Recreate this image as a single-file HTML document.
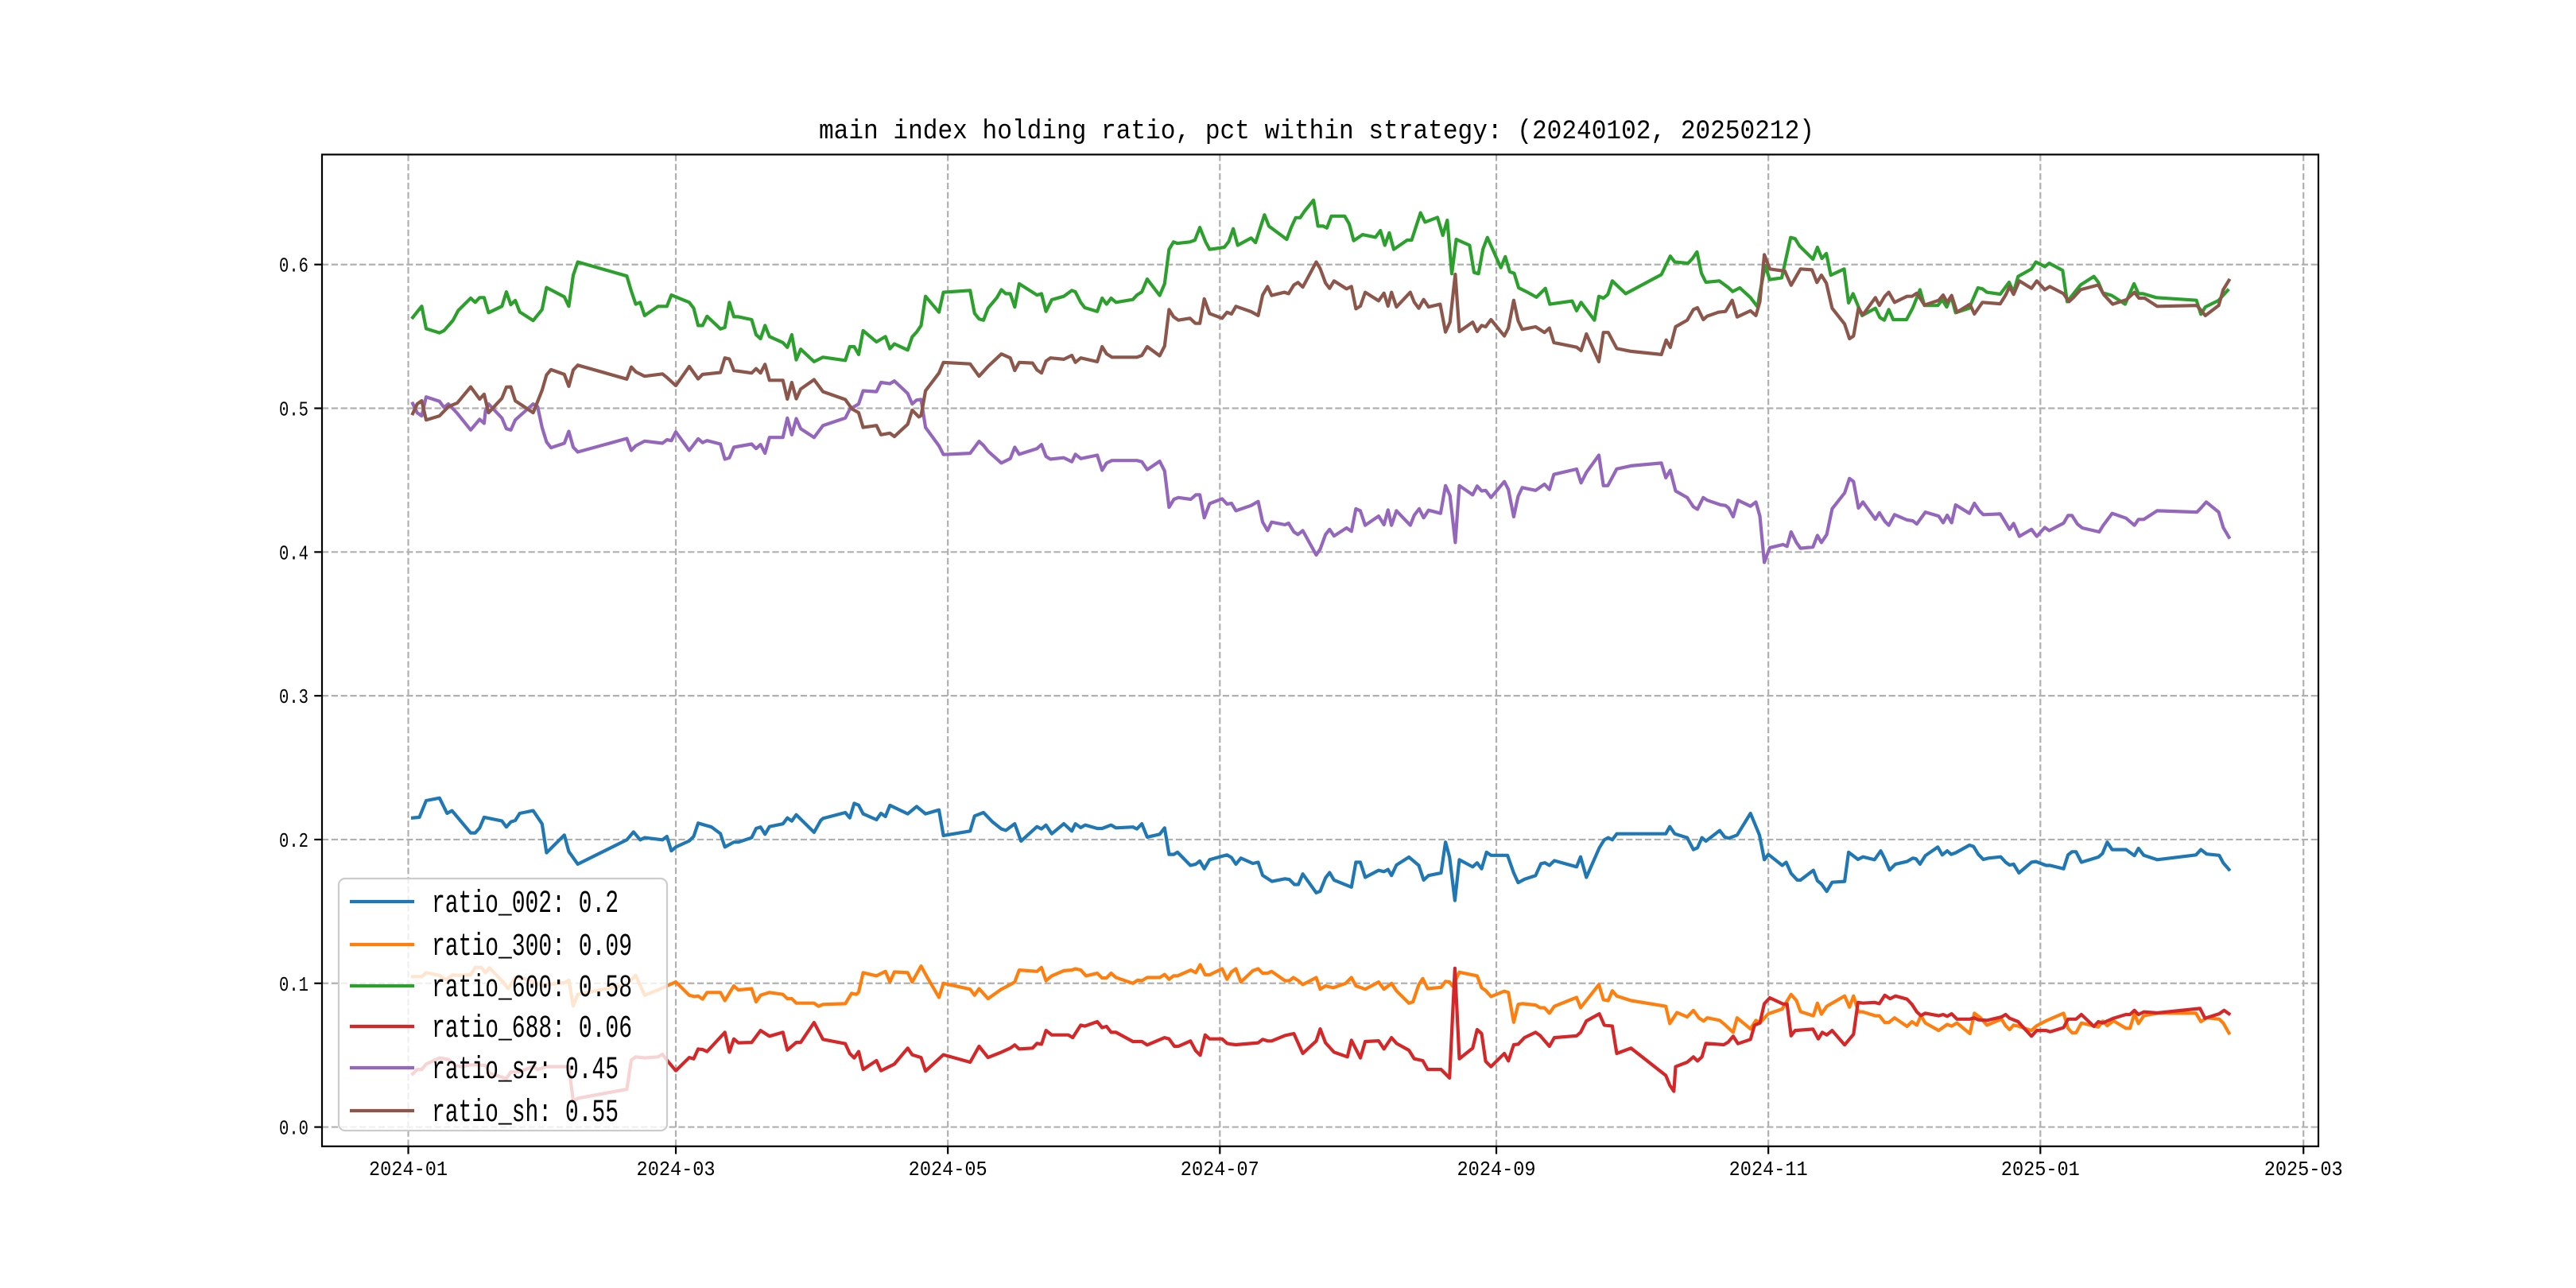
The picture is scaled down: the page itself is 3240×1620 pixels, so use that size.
<!DOCTYPE html>
<html><head><meta charset="utf-8"><style>
html,body{margin:0;padding:0;background:#fff;}
svg{display:block;}
text{font-family:"Liberation Mono","Noto Sans CJK SC",monospace;fill:#000;}
</style></head><body>
<svg id="chart" width="3240" height="1620" viewBox="0 0 3240 1620" xmlns="http://www.w3.org/2000/svg">
<rect x="0" y="0" width="3240" height="1620" fill="#fff"/>
<text x="1656" y="174" font-size="34" text-anchor="middle" textLength="1252" lengthAdjust="spacingAndGlyphs">main index holding ratio, pct within strategy: (20240102, 20250212)</text>
<g id="grid"></g>
<g id="series"></g>
<rect x="405" y="194.4" width="2511" height="1247.4" fill="none" stroke="#000" stroke-width="2.2"/>
<g id="ticks"></g>
<g id="legend"></g>
</svg>
<script>
const xTickLabels=["2024-01","2024-03","2024-05","2024-07","2024-09","2024-11","2025-01","2025-03"];
const xTickDays=[0,60,121,182,244,305,366,425];
const yTickValues=[0.0,0.1,0.2,0.3,0.4,0.5,0.6];
const yTickLabels=["0.0","0.1","0.2","0.3","0.4","0.5","0.6"];
const seriesNames=["ratio_002","ratio_300","ratio_600","ratio_688","ratio_sz","ratio_sh"];
const legendValues=["0.2","0.09","0.58","0.06","0.45","0.55"];
const seriesColors=["#1f77b4","#ff7f0e","#2ca02c","#d62728","#9467bd","#8c564b"];

const days002=[1,2.5,4,7,8.7,9.8,14,15,16,17,21,22,23,24,25,28,30,31,35,36,38,49,50.5,52,53,57,58,59,60,63,64,65,68,70,71,73,74,77,78,79,80,81,84,85,86,87,91,92.5,93,98,99,100,101,102,105,106,107,108,112,114,116,119,120,126,127,129,131,133,134,136,137.4,141,142,143,144.3,147,148.8,149.6,150.8,151.8,154.5,155.6,157.6,158.7,162.5,163.4,164.5,165.7,168.5,169.6,170.6,171.7,172.5,175.4,176.6,177.5,178.5,179.7,182.5,183.6,184.6,185.6,186.7,189.4,190.6,191.6,193.7,196.6,197.6,198.7,199.6,200.6,203.6,204.5,205.7,206.6,207.6,211.5,212.5,213.5,214.6,217.6,218.8,219.7,220.5,221.6,224.4,226.6,227.7,228.8,231.6,232.6,233.5,234.7,235.7,238.7,239.7,240.7,241.8,242.8,246.5,247.9,248.9,250.3,252.8,254,254.9,255.9,257,262,262.9,264.2,267.1,268.2,269.1,270,271,282,282.9,284,286.8,288.2,289.1,290.1,291,294.1,295.2,296.1,298,301,303,304.1,305,308.1,309,310.1,311.5,312.2,315.1,316,316.9,318.1,319.3,322.1,323,325.1,326.2,328.8,330.2,331.1,332.2,333.5,336.1,337.4,338.1,339,340.2,343,344,345.1,346,347,350.1,351,352.1,353.2,354.4,357.1,358.2,359.1,360,361.2,364,365,367.3,368.2,371.2,372.2,373.1,374,375.2,379,379.9,381,382.1,385.2,387.1,388,389.2,392.2,400.9,402,403.3,406.1,407,408.3];
const vals002=[.2151,.2155,.2271,.2289,.2182,.2201,.2046,.2046,.2081,.2155,.2129,.2087,.2123,.2133,.2182,.2201,.2109,.1908,.2031,.1917,.1829,.1998,.2053,.1998,.2013,.1998,.2022,.1921,.1948,.1991,.2022,.2114,.2087,.2041,.1948,.1982,.1982,.2013,.2077,.2087,.2037,.209,.2109,.2151,.2129,.2173,.205,.2133,.2147,.2188,.2151,.2252,.2239,.2179,.2138,.2182,.216,.2238,.2179,.223,.2179,.2206,.2028,.2059,.2164,.2188,.2123,.2074,.2064,.211,.1989,.209,.2074,.2101,.204,.211,.2059,.211,.2083,.2101,.2077,.2077,.2101,.2081,.2087,.2074,.211,.2017,.2037,.2081,.1897,.1897,.1912,.182,.1829,.1851,.1797,.186,.1884,.1893,.1875,.1829,.1871,.1834,.1842,.1751,.1709,.1727,.1722,.1687,.1687,.1761,.163,.1641,.1733,.177,.1718,.1669,.1842,.1842,.1737,.1786,.1777,.1792,.175,.1823,.1878,.182,.1718,.175,.1768,.1982,.1878,.1576,.186,.181,.1838,.1797,.1912,.189,.189,.1768,.17,.1724,.175,.1832,.1838,.182,.1853,.181,.188,.1737,.1943,.1998,.2013,.1998,.204,.204,.209,.204,.2013,.193,.1943,.2013,.1989,.2063,.2018,.2009,.2031,.2182,.2031,.186,.1897,.182,.1842,.1764,.1718,.1718,.1786,.1713,.1691,.1639,.1703,.1709,.1912,.1862,.188,.186,.1921,.1866,.1788,.1829,.1847,.1871,.1866,.1829,.1888,.1948,.1893,.1921,.1897,.1908,.1961,.1952,.1897,.1862,.1871,.188,.1842,.1823,.1829,.1768,.1842,.1847,.182,.182,.1797,.1893,.1915,.1915,.1842,.1878,.1902,.1982,.193,.193,.1888,.1939,.189,.186,.1893,.193,.1899,.189,.1838,.1792];

const days300=[1,3,4,7,8.4,10,11,14,15,16.4,17.3,18.2,21,22.4,24,26,28,30,31,35,36,37,38,49,50,51,53,56,58,60,63,64.2,65,66,67,70,71,73,74,77,78,79,81,84,85,86,87,91,92,93,98,99.4,100.5,101,102,105,107,108,109,112,113,115,116.3,119,120,126,127,128,130,133,135,136,137,141,142,143,144.3,147,148.8,149.6,150.8,152,154.5,155.6,156.6,157.6,158.7,162.5,163.6,164.5,165.7,168.5,169.6,170.6,171.6,172.5,175.5,176.6,177.6,178.7,179.7,182.5,183.6,184.6,185.6,186.7,189.4,190.6,191.6,192.7,193.6,196.6,197.6,198.5,199.6,200.6,203.6,204.5,205.7,207.4,210.2,211.5,212.5,214.6,217.6,218.8,220.5,221.6,224.4,225.3,226.6,227.5,228.6,231.6,232.6,233.5,234.2,235.7,239.7,240.7,241.6,242.8,245.8,246.7,247.9,248.9,249.8,252.8,253.8,254.8,255.9,257,262,262.9,267,268,269.1,270,271,274.2,282,282.9,284.5,286.8,288.2,289.4,290.5,291.3,294.1,295.2,297.1,298,301,302.2,303.1,305,308.1,310.1,311.3,312.2,315.1,316,316.9,318.1,322.1,323.2,324.1,325.2,326.2,329,329.9,331.1,332,333.3,336.1,337.2,338.3,339.2,340.2,343.2,345.1,346.1,347.3,350.2,351.2,352.6,354,357.3,358.2,359.1,360,361,364,365.2,367.5,371.2,372.2,373.1,374,375.2,379,380,381,382.4,385.2,386.1,387.1,388,389.2,392.2,400.9,402,403.3,406.1,407,408.3];
const vals300=[.1046,.1046,.1074,.1055,.1024,.1059,.1055,.1059,.111,.111,.1074,.1107,.1018,.0963,.104,.1033,.1009,.0982,.0991,.1004,.1022,.0843,.0923,.0991,.1024,.1055,.0917,.0954,.0982,.1009,.0917,.0908,.0912,.089,.0936,.0936,.088,.0982,.0954,.0963,.0871,.0917,.0936,.0923,.0893,.0893,.0862,.0862,.084,.0853,.0858,.093,.0923,.0939,.1074,.1052,.1083,.1009,.1079,.1074,.1009,.112,.1046,.0902,.1,.0959,.0917,.0963,.0893,.0959,.0991,.1009,.1092,.1083,.111,.1018,.1052,.1088,.1092,.1101,.1092,.1052,.107,.1037,.1037,.107,.104,.1,.1022,.1018,.104,.104,.1061,.1028,.1052,.1052,.1092,.1074,.1129,.1059,.1059,.1101,.1028,.1079,.1101,.1009,.1088,.1101,.107,.107,.1083,.1018,.1018,.104,.1018,.0991,.104,.0959,.0982,.0969,.1,.104,.0982,.0959,.1009,.0959,.1,.0948,.0862,.0871,.0991,.1033,.0963,.0972,.1013,.1009,.098,.1077,.1052,.0969,.095,.0908,.0945,.0936,.0729,.0853,.0858,.0849,.083,.083,.0792,.084,.0902,.083,.0991,.0886,.088,.0948,.0912,.088,.084,.072,.0797,.0766,.0812,.076,.0737,.076,.0742,.0714,.0659,.076,.0683,.0742,.0724,.0788,.0821,.0923,.088,.0803,.0774,.0862,.0785,.084,.0912,.0834,.0912,.0801,.0801,.0774,.0774,.0727,.0727,.076,.07,.0733,.0709,.0774,.0724,.0672,.0714,.0702,.0724,.065,.0792,.076,.0709,.0751,.0705,.0678,.0709,.0702,.0672,.0705,.0742,.0792,.0687,.0656,.0656,.0724,.0696,.0737,.0705,.0739,.0687,.0687,.0788,.072,.0774,.0792,.0792,.0733,.076,.0751,.0724,.0654];

const days600=[1,3,4,7,8,10,11.2,14,15,16,17,18,21,22,23,24,25,28,30,31,35,36,37,38,49,50,51,52,53,56,58,59,63,64,65,66,67,70,71,72,73,74,77,78,79,80,81,84,85,86,87,88,91,93,98,99,100,101,102,105,107,108,109,112,113,114,115,116,119,120,126,127,128,129,130,132,133,134,135,136,137,141,142,143,144.3,147,148.8,149.6,150.8,151.7,154.5,155.6,156.6,157.6,158.7,162.5,163.4,164.5,165.7,168.5,169.6,170.6,171.6,172.5,175.3,176.4,177.5,178.8,179.7,183,184,185,186,189,190,192,193,197,198,199,200,201,203,204,205.2,206,207,210,211,212,214,216.9,218,219,220,221,224,225,227,228,230.8,232,233,234,235,238,239,240,241,242,245,246,247,248,249,251,253,255,256,261,262,263,266,267,268,269,270,273,281,283,284,287,288,289,290,291,294,296,297,298.6,301,302.6,303,304.3,305.3,308,310,311,312,315,316,317,318,319,322,323,324,326,329,330,331,332,333,336,337.4,339,340,343,344,345,346,347,350,352,353,354,357,359,360,361,364,365,367,368,371,372,375,378,379,380,382,385,387,388,389,392,401,402,403,406,408];
const vals600=[.5632,.571,.5554,.5525,.554,.561,.568,.5766,.5737,.577,.577,.5665,.571,.581,.572,.575,.567,.561,.5687,.584,.5775,.571,.5926,.6018,.592,.5816,.5724,.5737,.5645,.5709,.5709,.5788,.5737,.5696,.5576,.5576,.564,.5552,.5562,.5737,.5637,.5637,.5617,.5512,.5484,.5576,.5499,.5457,.5424,.5512,.5337,.5411,.5324,.5355,.5333,.5429,.5429,.5374,.554,.5462,.5499,.5414,.5448,.5405,.5497,.553,.5576,.5779,.5668,.5807,.582,.566,.5622,.5613,.5696,.577,.5825,.5797,.5797,.5705,.5866,.5788,.5797,.5674,.5755,.5779,.582,.581,.5737,.57,.5674,.5766,.5724,.5766,.5737,.5757,.5788,.581,.5899,.5785,.5866,.6105,.6157,.6147,.6157,.617,.6258,.6157,.6105,.612,.616,.6249,.6134,.6184,.6153,.6346,.6267,.6175,.6258,.6326,.6326,.6372,.6448,.6267,.6267,.6254,.6337,.6337,.6282,.6166,.6208,.619,.6236,.6134,.6221,.6105,.617,.617,.636,.6295,.6328,.6203,.6308,.5936,.6175,.6134,.5945,.5936,.6107,.6188,.5978,.6055,.595,.5939,.5838,.5807,.5773,.5834,.5724,.5746,.5678,.5737,.5613,.5779,.5766,.5792,.5886,.5797,.593,.6059,.6018,.6009,.6042,.6088,.5939,.5877,.5886,.584,.5812,.5838,.577,.5705,.5788,.5994,.5895,.5908,.6188,.618,.6129,.6037,.612,.6042,.6077,.5926,.5969,.5733,.5797,.5645,.5696,.5632,.5613,.5687,.5617,.5617,.57,.5825,.5715,.5715,.5755,.5705,.5779,.5665,.5696,.5838,.5831,.5807,.5794,.5877,.5807,.5917,.5969,.6018,.5985,.6009,.5959,.5742,.5858,.5917,.5877,.5803,.5785,.5724,.5867,.5797,.5797,.577,.5751,.5654,.5705,.5751,.5821];

const days688=[1,2,3,4,7,9,10.6,12,14,15.4,17.3,18.2,22,23,24.8,28,29,31,35,36,37,38,49,50,51,53,56,57,58,60,63,64,65,66,67,71,72,73,74,77,79,81,84,85,87,88,91,93,98,99,100,101,102,105,106,109,112,113,115,116,120,126,128,130,133,135,136,137,140,141,142,143,144.3,148,149,150.8,151.7,154.5,155.6,156.6,157.6,158.7,162.5,164.5,165.7,169.6,170.6,171.8,172.7,175.4,176.6,177.6,178.7,179.7,182.5,183.6,184.6,185.6,190.6,191.6,192.7,193.6,196.6,198.6,200.6,203.6,204.5,205.7,207.6,210.6,211.5,213.5,214.6,217.6,218.8,220.5,221.6,224.4,225.6,227.5,228.6,231.6,233.5,234.7,235.7,238.7,239.7,240.7,241.6,242.8,245.8,246.7,247.9,248.9,250.3,252.8,253.8,255.9,257,262,262.9,264.2,267.1,268.2,270,271,274.2,282,282.9,283.8,284.2,286.8,288.2,289.1,290.1,291,295,296,297.1,298.2,301,301.9,303.1,304.1,305.3,308.3,309.2,310.1,311,315,316.2,317.1,318.1,319.3,322.1,324.1,325.1,326.2,328.8,329.9,331.1,332.3,333.5,336.1,337.2,338.3,339.2,340.2,343.2,344.2,345.1,346.1,347.3,350.2,351.2,352.1,354,357.3,358.2,359.1,361,364,365.2,367.3,368.2,371.2,372.2,374,375.2,378,379,380,382.4,385.2,386.1,387.1,388,389.2,392.2,401.8,402.9,406.1,407.2,408.3];
const vals688=[.037,.0401,.0401,.0438,.0481,.047,.0429,.042,.0433,.0433,.0429,.0374,.0337,.0383,.0383,.042,.0401,.042,.042,.042,.0181,.02,.0263,.0466,.0488,.0481,.0488,.0506,.0466,.0392,.0484,.0475,.0543,.0539,.0525,.0659,.0521,.0613,.0586,.0589,.0672,.0632,.0659,.0536,.0589,.0589,.0727,.061,.058,.0512,.0481,.0525,.0401,.0462,.0392,.0438,.0549,.0503,.0484,.0389,.0503,.0451,.0562,.0484,.0521,.0549,.0571,.0543,.0549,.0582,.0576,.0672,.0641,.0641,.0622,.0709,.0702,.0733,.0692,.07,.0659,.0659,.0595,.0595,.0571,.0622,.0613,.0562,.0562,.0599,.053,.0499,.0641,.0613,.0613,.0582,.0576,.0573,.0586,.061,.0599,.0599,.0637,.065,.0512,.0599,.0683,.0586,.0521,.0488,.0604,.0481,.0595,.06,.0543,.0622,.0582,.0534,.0475,.0462,.0401,.0401,.0341,.1105,.0475,.0549,.0678,.065,.0457,.042,.0512,.046,.0573,.0576,.0622,.0659,.0637,.0562,.0622,.0635,.0659,.0738,.0788,.0709,.0702,.0512,.0549,.0359,.0291,.0249,.042,.0451,.0488,.046,.0488,.0582,.0573,.0591,.0632,.058,.061,.0709,.0724,.0858,.0899,.0856,.0856,.0635,.0672,.0681,.0613,.0659,.0641,.0672,.0571,.0646,.0867,.0862,.0867,.0858,.0917,.0893,.0912,.089,.0853,.0801,.0775,.0792,.0774,.0783,.077,.0788,.0751,.0751,.076,.0746,.0742,.0766,.0783,.0757,.0733,.0632,.0672,.0672,.0663,.0692,.0751,.0751,.0783,.07,.0733,.0724,.0757,.0783,.0783,.0812,.0783,.0801,.0794,.0825,.0757,.0788,.0812,.0788];

const daysSz=[1,2,3,4,7,8,9,11,14,16,17,17.3,18,21,22,23,24,28,29,30,31,32,35,36,37,38,49,50,51,53,57,58,59,60,63,65,66,67,70,71,72,73,77,78,79,80,81,84,85,86,87,88,91,93,98,99,101,102,105,106,108,109,112,113,114,115,116,119,120,126,128,129,130,133,135,136,137,141,142,143,144,147,148.8,149.6,150.8,154.5,155.6,156.6,157.8,163.4,164.5,165.7,168.5,169.6,170.6,171.7,172.7,175.5,176.6,177.5,178.5,179.7,182.5,183.6,184.6,185.6,189,190.6,191.6,192.7,193.6,196.6,197.4,198.6,199.5,200.6,203.6,204.5,205.7,206.6,207.6,210.4,211.5,212.5,213.5,214.6,217.6,218.8,219.7,220.5,221.6,224.7,225.6,226.7,227.7,228.8,231.5,232.6,233.6,234.8,235.7,238.7,239.7,240.7,241.6,242.8,245.8,246.7,247.9,248.9,249.8,252.8,254.8,255.9,256.9,262,263,264.2,267,268,269,271,274.2,281,282,283,284.2,286.8,288.2,289.1,290.4,291.3,294.3,295.4,296.1,297.1,298.2,301,302.2,303.1,304.1,305.3,308.3,309.2,310.1,311.3,312.2,315,316,316.9,318.1,319.3,322.1,323.2,324.1,325.2,326.2,329,329.9,331.1,332,333.3,336.1,337.4,338.3,340.2,343.2,344.2,345.1,346.1,347,350.1,351.2,352.3,353.2,357,358.2,359.1,360,361.3,364,365.2,367,368,371.2,372.2,373.1,374.3,375.4,379.2,380.1,382.1,385.2,387.1,388,389.2,392.2,401.1,402,403.2,406,407,408.3];
const valsSz=[.5033,.4969,.4947,.5079,.5048,.5006,.503,.4965,.4849,.4923,.4895,.4982,.503,.4932,.4858,.4849,.4919,.503,.5011,.4867,.4766,.4726,.4757,.484,.4729,.4696,.479,.4707,.4739,.4772,.4757,.4781,.4775,.4836,.4707,.4788,.4761,.4775,.4751,.4646,.4656,.4729,.4751,.472,.4748,.4687,.4797,.4797,.4932,.4816,.4928,.4858,.4797,.488,.4932,.4993,.503,.5122,.5116,.518,.5171,.519,.5103,.503,.5057,.5061,.4867,.4739,.4678,.4687,.477,.4742,.4702,.4619,.465,.4729,.468,.472,.4748,.4665,.4646,.4656,.4628,.468,.465,.4674,.4569,.4619,.4637,.4637,.4628,.4573,.4632,.4564,.4311,.4367,.4379,.4367,.4398,.4398,.4238,.4337,.437,.4333,.4339,.4287,.4324,.4352,.4208,.4149,.4208,.419,.4201,.414,.4122,.4149,.398,.402,.4122,.4158,.4112,.4168,.4144,.4301,.4287,.4186,.425,.419,.4293,.4186,.4287,.4186,.4256,.4301,.4238,.4291,.4269,.4462,.4394,.4066,.4462,.4398,.4459,.4425,.4429,.4379,.449,.4435,.4245,.4389,.4448,.4429,.4472,.4435,.454,.4577,.4481,.4554,.4674,.4462,.4462,.4578,.46,.4619,.4517,.4569,.4425,.4379,.4315,.4297,.4379,.436,.4328,.4324,.4306,.4245,.436,.4319,.4348,.425,.3928,.403,.4052,.4039,.414,.4066,.4026,.4035,.4116,.4066,.4122,.4301,.4411,.4512,.449,.4306,.4348,.4228,.4274,.4214,.4186,.426,.4223,.4217,.4195,.4278,.425,.4204,.4256,.4204,.4328,.4269,.4339,.4287,.426,.4265,.4204,.4158,.4199,.4109,.4158,.4109,.4171,.4149,.4201,.4254,.4254,.4195,.4168,.414,.4186,.4269,.4236,.4186,.4227,.4227,.4287,.4278,.4306,.4348,.4278,.4171,.4103];

const daysSh=[1,2,3,4,7,9,11,14,16,17,18,21,22,23,24,28,30,31,32,35,36,37,38,49,50,51,53,57,58,60,63,65,66,70,71,72,73,77,78,79,80,81,84,85,86,87,88,91,93,98,99.5,101,102,105,106,108,109,112,113,114.5,115,116,119,120,126,128,130,133,135,136,137,140,141,142,143,144,147,148.8,149.6,150.8,154.5,155.6,156.6,157.8,163.4,164.5,165.7,168.5,169.6,170.6,171.6,172.7,175.3,176.5,177.5,178.5,179.7,182.5,183.6,184.6,185.6,189,190.6,191.6,192.7,193.6,196.5,197.4,198.6,199.5,200.6,203.6,204.5,205.7,206.6,207.6,210.4,211.5,212.5,213.5,214.6,217.6,218.8,219.7,220.5,221.6,224.7,225.6,226.6,227.7,228.8,231.4,232.6,233.6,234.8,235.7,238.7,239.7,240.7,241.6,242.8,245.8,246.7,247.9,248.9,249.8,252.8,254.8,255.9,256.9,262,263,264.2,267,268,269.1,271,274.2,281,282.1,283,284.2,286.8,288.2,289.1,290.4,291.3,293.8,295.4,296.9,298,301,302.2,303.1,304.1,305.3,308.7,310.1,312.2,314.8,315.9,316.9,318,319.3,322.1,323.2,324.1,325.2,326.2,329,329.9,331.1,332,333.3,336.1,337.2,338.3,340,343.2,344.2,345.1,346.1,347.3,350.2,351.2,353,357,358.2,359.1,360,361.3,364,365.2,367,368.1,371.2,372.4,373.4,375,379,380.3,382.2,385.3,387.1,388.1,389.4,392.2,401.1,403,406,407,408.3];
const valsSh=[.4963,.503,.5052,.4919,.4947,.5011,.5037,.5149,.5064,.5098,.4969,.507,.5147,.5149,.5052,.4969,.5125,.5232,.5269,.5236,.5153,.5267,.53,.5203,.5287,.5254,.5223,.5239,.5214,.5158,.5291,.5204,.5236,.5249,.535,.5343,.5263,.5245,.5276,.5245,.5306,.5195,.5195,.5064,.518,.5066,.5134,.5199,.5116,.5061,.4996,.4969,.4867,.488,.4816,.4827,.4803,.4889,.4987,.494,.495,.5122,.5245,.5319,.5309,.5223,.5291,.5378,.535,.5263,.5319,.5315,.5267,.5245,.5328,.535,.5341,.5368,.5319,.535,.5324,.5429,.5379,.5355,.5355,.5368,.5429,.5365,.5433,.5687,.5637,.5613,.5626,.5591,.5591,.5761,.5659,.5626,.5668,.5656,.5709,.5672,.5645,.5788,.5847,.5785,.5807,.5797,.5858,.5875,.5843,.6018,.5972,.5871,.5834,.5886,.5831,.5847,.5692,.5711,.5807,.5748,.5801,.5711,.5807,.5705,.5807,.5738,.5696,.5757,.5705,.5724,.553,.5599,.5932,.5534,.5599,.5534,.5576,.5567,.5617,.5503,.5558,.5751,.5608,.5549,.5567,.5527,.5558,.5457,.5425,.5401,.5517,.5324,.5527,.5527,.5416,.5396,.5374,.5475,.5424,.5567,.5613,.5687,.57,.5617,.5641,.5668,.5674,.5751,.5635,.5678,.5645,.5742,.6068,.5969,.5954,.5856,.5969,.5963,.5875,.5926,.5871,.5696,.5586,.5484,.5503,.5696,.565,.577,.5715,.5779,.5807,.5737,.5779,.5779,.5801,.5718,.5751,.5788,.5737,.5785,.5668,.5724,.5656,.5737,.5727,.5788,.5847,.5792,.5886,.5834,.5886,.5825,.5847,.5797,.5742,.577,.5825,.5858,.5788,.5724,.5755,.5807,.5766,.5766,.5709,.5715,.5645,.5715,.5825,.589];

const allDays=[days002,days300,days600,days688,daysSz,daysSh];
const allVals=[vals002,vals300,vals600,vals688,valsSz,valsSh];

const AX={l:405,r:2916,t:194.4,b:1441.8};
const xMin=-19.35, xMax=428.35, yMin=-0.0134, yMax=0.6765;
function xs(d){return AX.l+(d-xMin)/(xMax-xMin)*(AX.r-AX.l);}
function ys(v){return AX.b-(v-yMin)/(yMax-yMin)*(AX.b-AX.t);}
const NS="http://www.w3.org/2000/svg";
function mk(tag,attrs){const e=document.createElementNS(NS,tag);for(const k in attrs)e.setAttribute(k,attrs[k]);return e;}

const grid=document.getElementById('grid');
const ticks=document.getElementById('ticks');
xTickDays.forEach((d,i)=>{
  const x=xs(d);
  const g=mk('line',{x1:x,y1:AX.t,x2:x,y2:AX.b,stroke:'#b0b0b0','stroke-width':2.2,'stroke-dasharray':'8.2 3.6'});
  
  
  grid.appendChild(g);
  const t=mk('line',{x1:x,y1:AX.b,x2:x,y2:AX.b+9.7,stroke:'#000','stroke-width':2.2});
  
  
  ticks.appendChild(t);
  const lb=mk('text',{x:x,y:AX.b+36,'font-size':26,'text-anchor':'middle',textLength:99,lengthAdjust:'spacingAndGlyphs'});
  lb.textContent=xTickLabels[i];
  
  
  ticks.appendChild(lb);
});
yTickValues.forEach((v,i)=>{
  const y=ys(v);
  const g=mk('line',{x1:AX.l,y1:y,x2:AX.r,y2:y,stroke:'#b0b0b0','stroke-width':2.2,'stroke-dasharray':'8.2 3.6'});
  
  
  grid.appendChild(g);
  const t=mk('line',{x1:AX.l-9.7,y1:y,x2:AX.l,y2:y,stroke:'#000','stroke-width':2.2});
  
  
  ticks.appendChild(t);
  const lb=mk('text',{x:AX.l-17,y:y+9,'font-size':26,'text-anchor':'end',textLength:37,lengthAdjust:'spacingAndGlyphs'});
  lb.textContent=yTickLabels[i];
  
  
  ticks.appendChild(lb);
});

const sg=document.getElementById('series');
allDays.forEach((ds,si)=>{
  const pts=ds.map((d,j)=>xs(d).toFixed(1)+','+ys(allVals[si][j]).toFixed(1)).join(' ');
  const pl=mk('polyline',{points:pts,fill:'none',stroke:seriesColors[si],'stroke-width':4.2,'stroke-linejoin':'round','stroke-linecap':'square'});
  
  
  sg.appendChild(pl);
});

const lg=document.getElementById('legend');
const box=mk('rect',{x:426,y:1105,width:413,height:317,rx:8,fill:'#fff','fill-opacity':0.8,stroke:'#cccccc','stroke-width':2.2});


lg.appendChild(box);
const legendY=[1134,1188,1240,1291,1343,1397];
seriesNames.forEach((n,i)=>{
  const y=legendY[i];
  const ln=mk('line',{x1:440,y1:y,x2:521,y2:y,stroke:seriesColors[i],'stroke-width':4.2});
  
  
  lg.appendChild(ln);
  const label=n+': '+legendValues[i];
  const tx=mk('text',{x:543,y:y+13,'font-size':40,textLength:(label.length*16.8).toFixed(0),lengthAdjust:'spacingAndGlyphs'});
  tx.textContent=label;
  
  
  lg.appendChild(tx);
});
</script>
</body></html>
